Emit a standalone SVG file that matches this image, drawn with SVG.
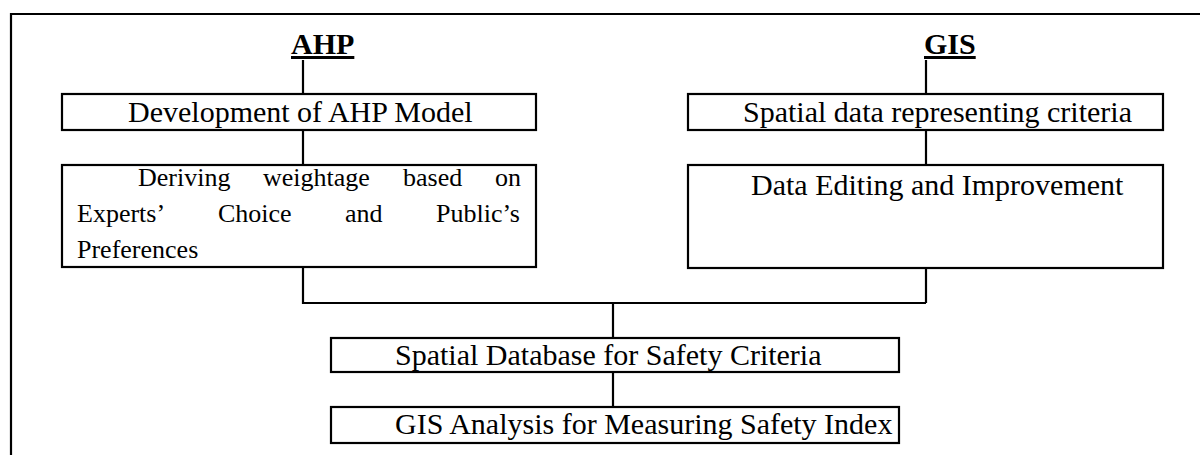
<svg xmlns="http://www.w3.org/2000/svg" width="1200" height="455" viewBox="0 0 1200 455">
  <style>
    .frame { stroke: #000; stroke-width: 2.2; fill: none; }
    .box { fill: #fff; stroke: #000; stroke-width: 2.2; }
    .conn { stroke: #000; stroke-width: 2.2; fill: none; }
    .t { font-family: "Liberation Serif", "Times New Roman", serif; font-size: 30px; fill: #000; }
    .ts { font-family: "Liberation Serif", "Times New Roman", serif; font-size: 26px; fill: #000; }
    .title { font-family: "Liberation Serif", "Times New Roman", serif; font-size: 30px; font-weight: bold; fill: #000; text-decoration: underline; }
  </style>
  <rect width="1200" height="455" fill="#fff"/>
  <path class="frame" d="M11,455 V14 H1200"/>

  <g id="connectors">
    <path class="conn" d="M303,60 V94 M303,130 V165 M303,267 V303 H926 M926,60 V94 M926,130 V165 M926,268 V303 M613,303 V338 M613,372 V407"/>
  </g>

  <g id="title-ahp">
    <text class="title" x="291" y="54">AHP</text>
  </g>
  <g id="title-gis">
    <text class="title" x="924" y="54">GIS</text>
  </g>

  <g id="node-ahp-model">
    <rect class="box" x="62" y="94" width="474" height="36"/>
    <text class="t" x="128" y="122">Development of AHP Model</text>
  </g>

  <g id="node-spatial-data">
    <rect class="box" x="688" y="94" width="475" height="36"/>
    <text class="t" x="743" y="122">Spatial data representing criteria</text>
  </g>

  <g id="node-weightage">
    <rect class="box" x="62" y="165" width="474" height="102"/>
    <text class="ts" y="186"><tspan x="138">Deriving</tspan> <tspan x="263">weightage</tspan> <tspan x="403">based</tspan> <tspan x="495">on</tspan></text>
    <text class="ts" y="222"><tspan x="77">Experts’</tspan> <tspan x="218">Choice</tspan> <tspan x="345">and</tspan> <tspan x="436">Public’s</tspan></text>
    <text class="ts" x="77" y="258">Preferences</text>
  </g>

  <g id="node-data-editing">
    <rect class="box" x="688" y="165" width="475" height="103"/>
    <text class="t" x="751" y="195">Data Editing and Improvement</text>
  </g>

  <g id="node-spatial-database">
    <rect class="box" x="331" y="338" width="568" height="34"/>
    <text class="t" x="395" y="365">Spatial Database for Safety Criteria</text>
  </g>

  <g id="node-gis-analysis">
    <rect class="box" x="331" y="407" width="568" height="36"/>
    <text class="t" x="395" y="434">GIS Analysis for Measuring Safety Index</text>
  </g>
</svg>
